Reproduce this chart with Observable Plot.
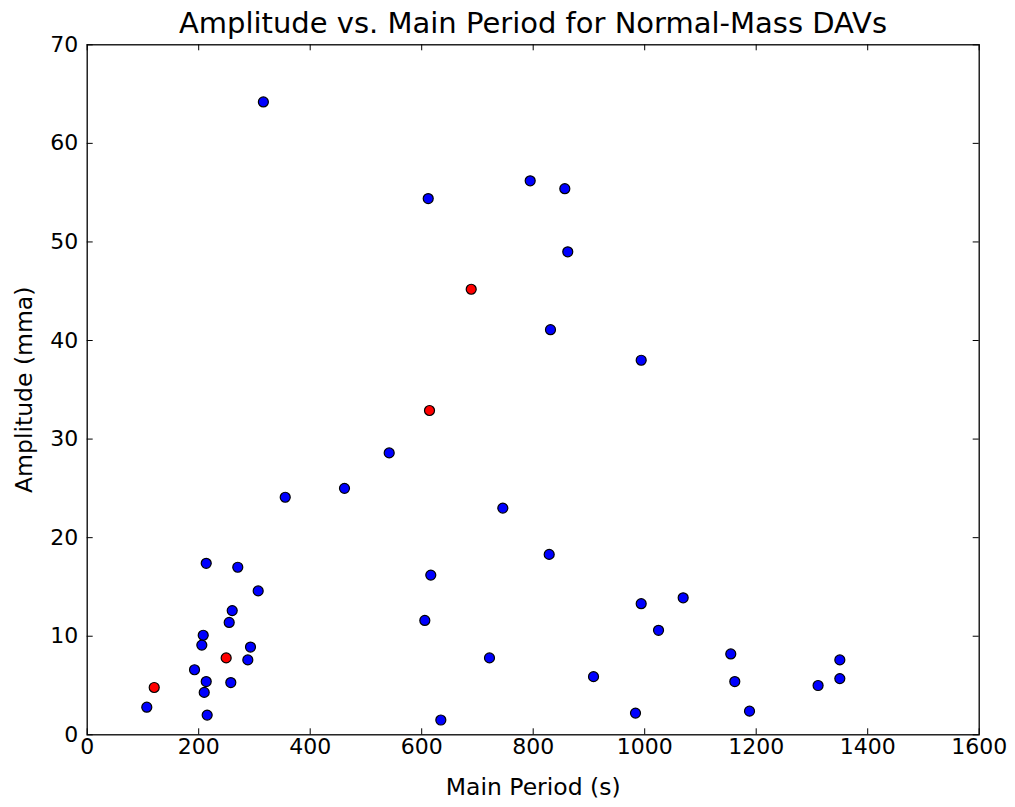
<!DOCTYPE html>
<html>
<head>
<meta charset="utf-8">
<script src="https://cdn.jsdelivr.net/npm/d3@7"></script>
<script src="https://cdn.jsdelivr.net/npm/@observablehq/plot@0.6"></script>
<style>
  html, body { margin: 0; padding: 0; background: #fff; }
  #wrap { width: 1015px; height: 807px; overflow: hidden; font-family: "DejaVu Sans", sans-serif; }
  #title { position: relative; z-index: 1; margin-left: 87px; width: 892px; height: 36px; margin-bottom: -25px; text-align: center; font-size: 29px; line-height: 36px; padding-top: 5px; box-sizing: content-box; color: #000; }
  #chart { position: relative; }
</style>
</head>
<body>
<div id="wrap">
  <div id="title">Amplitude vs. Main Period for Normal-Mass DAVs</div>
  <div id="chart"></div>
</div>
<script>
// Normal-mass DAVs (blue)
const bluePeriod = [316, 611.7, 794.6, 856.7, 862, 831, 993.7, 541.7, 461.5, 355.2, 745.5, 616.3, 828.7, 993.7, 605.6, 721.6, 908.2, 983.5, 634.3, 1069, 1024.8, 1154.4, 1161.6, 1350, 1350, 1311, 1188,
  213.5, 270.1, 306.7, 260.1, 254.7, 208.1, 205.6, 292.9, 288.1, 192.5, 213.5, 257.6, 209.9, 106.9, 215.2];
const blueAmp = [64.2, 54.4, 56.2, 55.4, 49.0, 41.1, 38.0, 28.6, 25.0, 24.1, 23.0, 16.2, 18.3, 13.3, 11.6, 7.8, 5.9, 2.2, 1.5, 13.9, 10.6, 8.2, 5.4, 7.6, 5.7, 5.0, 2.4,
  17.4, 17.0, 14.6, 12.6, 11.4, 10.1, 9.1, 8.9, 7.6, 6.6, 5.4, 5.3, 4.3, 2.8, 2.0];
// Highlighted DAVs (red)
const redPeriod = [688.8, 614, 249.3, 120.2];
const redAmp = [45.2, 32.9, 7.8, 4.8];

const xTicks = [0, 200, 400, 600, 800, 1000, 1200, 1400, 1600];
const yTicks = [0, 10, 20, 30, 40, 50, 60, 70];

const blue = bluePeriod.map((p, i) => ({period: p, amp: blueAmp[i], color: "#0000ff"}));
const red = redPeriod.map((p, i) => ({period: p, amp: redAmp[i], color: "#ff0000"}));

const top0 = 16; // SVG top offset on the page
const W = 1015, H = 807 - top0;
const mTop = 44.3 - top0, mBottom = 807 - 734.3, mLeft = 86.7, mRight = 1015 - 978.7;
const innerH = H - mTop - mBottom, innerW = W - mLeft - mRight;
const tk = 6;

const plot = Plot.plot({
  width: W,
  height: H,
  marginTop: mTop,
  marginBottom: mBottom,
  marginLeft: mLeft,
  marginRight: mRight,
  style: {fontFamily: "DejaVu Sans, sans-serif", fontSize: "22px", color: "#000", background: "none"},
  x: {domain: [0, 1600]},
  y: {domain: [0, 70]},
  marks: [
    Plot.axisX(xTicks, {tickSize: 0, tickPadding: 4, fontSize: 22, tickFormat: d => String(d), label: null}),
    Plot.axisY(yTicks, {tickSize: 0, tickPadding: 9, fontSize: 22, tickFormat: d => String(d), label: null}),
    Plot.axisX({label: "Main Period (s)", labelAnchor: "center", labelOffset: 60, labelArrow: "none", ticks: [], tickSize: 0, fontSize: 23.5}),
    Plot.axisY({label: "Amplitude (mma)", labelAnchor: "center", labelOffset: 72, labelArrow: "none", ticks: [], tickSize: 0, fontSize: 23.5}),
    Plot.tickX(xTicks, {x: d => d, insetTop: innerH - tk, stroke: "#000", strokeWidth: 1}),
    Plot.tickX(xTicks, {x: d => d, insetBottom: innerH - tk, stroke: "#000", strokeWidth: 1}),
    Plot.tickY(yTicks, {y: d => d, insetRight: innerW - tk, stroke: "#000", strokeWidth: 1}),
    Plot.tickY(yTicks, {y: d => d, insetLeft: innerW - tk, stroke: "#000", strokeWidth: 1}),
    Plot.frame({stroke: "#000", strokeWidth: 1.3}),
    Plot.dot(blue, {x: "period", y: "amp", r: 5, fill: "color", stroke: "#000", strokeWidth: 1.2}),
    Plot.dot(red, {x: "period", y: "amp", r: 5, fill: "color", stroke: "#000", strokeWidth: 1.2})
  ]
});
document.getElementById("chart").appendChild(plot);
</script>
</body>
</html>
